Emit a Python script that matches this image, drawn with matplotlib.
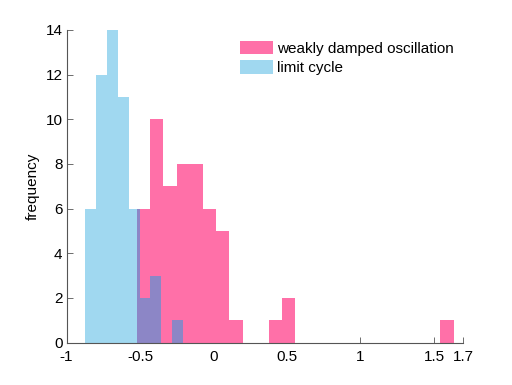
import numpy as np
import matplotlib
matplotlib.use("Agg")
import matplotlib.pyplot as plt

plt.rcParams["font.family"] = ["Liberation Sans", "DejaVu Sans"]
plt.rcParams["font.size"] = 11

# limit cycle histogram
lc_start = -0.875
lc_width = 0.0743
lc_counts = [6, 12, 14, 11, 6, 2, 3, 0, 1]

# weakly damped oscillation histogram
wd_start = -0.521
wd_width = 0.0898
wd_counts = [6, 10, 7, 8, 8, 6, 5, 1, 0, 0, 1, 2,
             0, 0, 0, 0, 0, 0, 0, 0, 0, 0, 0, 1]

xticks = [-1, -0.5, 0, 0.5, 1, 1.5, 1.7]
xticklabels = ["-1", "-0.5", "0", "0.5", "1", "1.5", "1.7"]
yticks = [0, 2, 4, 6, 8, 10, 12, 14]

pink = "#ff70a8"
blue = "#a0d8f0"
purple = "#8c86c6"

lc_left = lc_start + lc_width * np.arange(len(lc_counts))
wd_left = wd_start + wd_width * np.arange(len(wd_counts))

# overlap of the two histograms
ov_left, ov_width, ov_height = [], [], []
for l1, c1 in zip(lc_left, lc_counts):
    for l2, c2 in zip(wd_left, wd_counts):
        lo = max(l1, l2)
        hi = min(l1 + lc_width, l2 + wd_width)
        h = min(c1, c2)
        if hi > lo and h > 0:
            ov_left.append(lo)
            ov_width.append(hi - lo)
            ov_height.append(h)

fig = plt.figure(figsize=(5.12, 3.85), dpi=100)
ax = fig.add_axes([0.13, 0.11, 0.775, 0.8125])

ax.bar(lc_left, lc_counts, width=lc_width, align="edge", color=blue,
       linewidth=0, label="limit cycle", zorder=2)
ax.bar(wd_left, wd_counts, width=wd_width, align="edge", color=pink,
       linewidth=0, label="weakly damped oscillation", zorder=3)
ax.bar(ov_left, ov_height, width=ov_width, align="edge", color=purple,
       linewidth=0, zorder=4)

ax.set_xlim(-1, 1.7)
ax.set_ylim(0, 14)
ax.set_xticks(xticks)
ax.set_xticklabels(xticklabels)
ax.set_yticks(yticks)
ax.set_ylabel("frequency", labelpad=4)

for s in ["top", "right"]:
    ax.spines[s].set_visible(False)
for s in ["left", "bottom"]:
    ax.spines[s].set_color("#555555")
    ax.spines[s].set_zorder(5)
ax.tick_params(direction="in", length=4, width=0.6, color="#555555",
               labelcolor="black")
ax.tick_params(axis="x", pad=5)
ax.tick_params(axis="y", pad=3)

h, lab = ax.get_legend_handles_labels()
ax.legend(h[::-1], lab[::-1], loc="upper left", bbox_to_anchor=(0.429, 0.975),
          frameon=False, handlelength=2.2, handleheight=1.0,
          handletextpad=0.25, labelspacing=0.3, borderpad=0.2,
          borderaxespad=0)

fig.savefig("out.png", dpi=100)
